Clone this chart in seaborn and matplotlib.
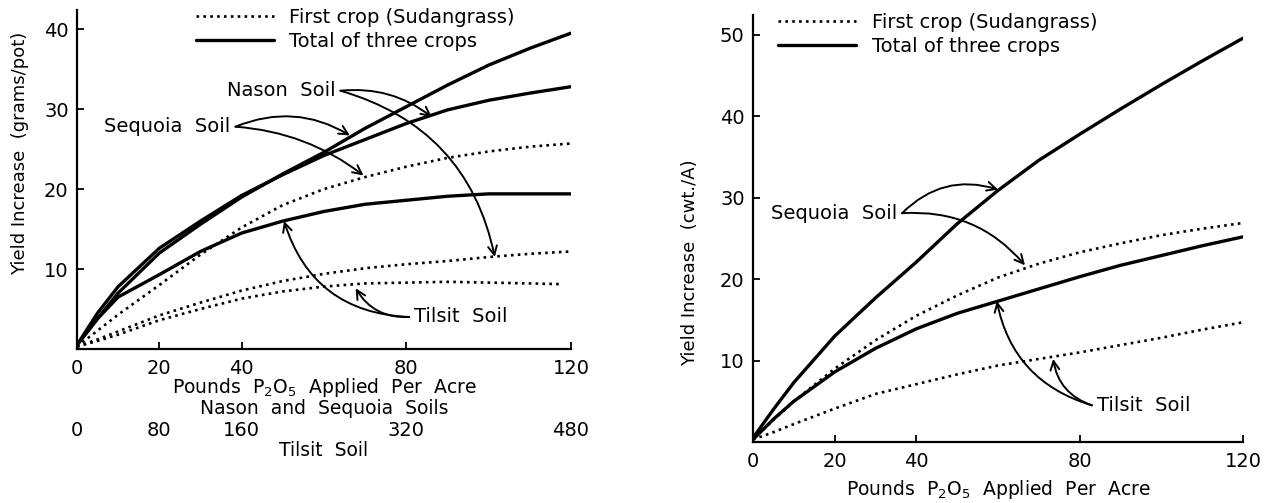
import matplotlib.pyplot as plt
import seaborn as sns
import pandas as pd
import numpy as np
from matplotlib.lines import Line2D

# values (x = pounds P2O5 per acre)
x_pts = [0, 5, 10, 20, 30, 40, 50, 60, 70, 80, 90, 100, 110, 120]
x_tilsit_first_l = [0, 5, 10, 20, 30, 40, 50, 60, 70, 80, 90, 100, 110, 118]

# left panel, grams/pot
sequoia_total_l = [0.5, 3.8, 7.0, 12.0, 15.6, 19.0, 21.9, 24.6, 27.6, 30.3, 33.0, 35.5, 37.6, 39.5]
nason_total_l = [0.5, 4.5, 7.8, 12.6, 16.0, 19.2, 21.8, 24.2, 26.2, 28.2, 29.9, 31.1, 32.0, 32.8]
tilsit_total_l = [0.5, 3.8, 6.5, 9.3, 12.2, 14.5, 16.0, 17.2, 18.1, 18.6, 19.1, 19.4, 19.4, 19.4]
sequoia_first_l = [0.3, 2.3, 4.3, 8.0, 11.8, 15.2, 18.0, 20.0, 21.5, 22.8, 23.9, 24.7, 25.3, 25.7]
nason_first_l = [0.3, 1.2, 2.2, 4.2, 5.8, 7.3, 8.5, 9.4, 10.1, 10.6, 11.0, 11.5, 11.9, 12.2]
tilsit_first_l = [0.3, 1.0, 1.8, 3.6, 5.0, 6.3, 7.2, 7.8, 8.2, 8.3, 8.4, 8.3, 8.2, 8.1]

# right panel, cwt./A
sequoia_total_r = [0.5, 4.0, 7.3, 13.0, 17.7, 22.1, 26.8, 30.9, 34.6, 37.8, 40.9, 43.9, 46.8, 49.6]
sequoia_first_r = [0.3, 2.7, 5.0, 9.0, 12.5, 15.5, 18.0, 20.2, 21.9, 23.3, 24.4, 25.4, 26.2, 26.9]
tilsit_total_r = [0.3, 2.8, 5.0, 8.6, 11.5, 13.9, 15.8, 17.3, 18.8, 20.3, 21.7, 22.9, 24.1, 25.2]
tilsit_first_r = [0.3, 1.2, 2.2, 4.1, 5.9, 7.1, 8.3, 9.4, 10.2, 11.0, 11.9, 12.8, 13.8, 14.7]

x_ticks = [0, 20, 40, 80, 120]
tilsit_ticks = [0, 80, 160, 320, 480]
legend_labels = ["First crop (Sudangrass)", "Total of three crops"]

# labels: text, anchor point, side, arrow tips with arc bend
left_notes = [
    ("Nason  Soil", (64.0, 32.3), "right", [((86.2, 29.0), -0.2), ((101.5, 11.5), -0.3)]),
    ("Sequoia  Soil", (38.5, 27.8), "right", [((66.3, 26.7), -0.25), ((69.6, 21.7), -0.15)]),
    ("Tilsit  Soil", (80.7, 4.0), "left", [((50.3, 16.0), -0.35), ((67.7, 7.6), -0.3)]),
]
right_notes = [
    ("Sequoia  Soil", (36.5, 28.1), "right", [((60.0, 31.0), -0.3), ((66.6, 21.7), -0.25)]),
    ("Tilsit  Soil", (83.0, 4.5), "left", [((59.7, 17.3), -0.3), ((73.5, 10.2), -0.3)]),
]

sns.set_theme(style="ticks")
plt.rcParams["font.family"] = ["DejaVu Sans"]
plt.rcParams["mathtext.default"] = "regular"
for key in ["text.color", "axes.labelcolor", "xtick.color", "ytick.color"]:
    plt.rcParams[key] = "black"

solid = dict(color="black", lw=2.4, linestyle="-")
dotted = dict(color="black", lw=1.9, linestyle=(0, (1, 1.6)))

fig = plt.figure(figsize=(12.73, 5.03), dpi=100)
ax1 = fig.add_axes([0.0605, 0.3062, 0.388, 0.674])
ax2 = fig.add_axes([0.5915, 0.1213, 0.385, 0.849])


def draw_curve(ax, x, y, style):
    sns.lineplot(x=x, y=y, ax=ax, estimator=None, sort=True, **style)


for y in [sequoia_total_l, nason_total_l, tilsit_total_l]:
    draw_curve(ax1, x_pts, y, solid)
for y in [sequoia_first_l, nason_first_l]:
    draw_curve(ax1, x_pts, y, dotted)
draw_curve(ax1, x_tilsit_first_l, tilsit_first_l, dotted)

for y in [sequoia_total_r, tilsit_total_r]:
    draw_curve(ax2, x_pts, y, solid)
for y in [sequoia_first_r, tilsit_first_r]:
    draw_curve(ax2, x_pts, y, dotted)


def add_notes(ax, notes):
    for text, (tx, ty), side, tips in notes:
        ha = "right" if side == "right" else "left"
        off = -1.2 if side == "right" else 1.2
        ax.text(tx + off, ty, text, ha=ha, va="center", fontsize=14)
        for (px, py), rad in tips:
            ax.annotate("", xy=(px, py), xytext=(tx, ty),
                        arrowprops=dict(arrowstyle="->", lw=1.4, color="black",
                                        connectionstyle=f"arc3,rad={rad}",
                                        shrinkA=0, shrinkB=0, mutation_scale=16))


add_notes(ax1, left_notes)
add_notes(ax2, right_notes)

handles = [Line2D([], [], **dotted), Line2D([], [], **solid)]

for ax, ymax, yticks, ylabel, anchor, lab_xy in [
    (ax1, 42.4, [10, 20, 30, 40], "Yield Increase  (grams/pot)", (0.241, 1.005), (-0.098, 0.578)),
    (ax2, 52.45, [10, 20, 30, 40, 50], "Yield Increase  (cwt./A)", (0.052, 1.004), (-0.11, 0.42)),
]:
    ax.set_xlim(0, 120)
    ax.set_ylim(0, ymax)
    ax.set_xticks(x_ticks)
    ax.set_yticks(yticks)
    sns.despine(ax=ax)
    for s in ["left", "bottom"]:
        ax.spines[s].set_linewidth(1.6)
        ax.spines[s].set_color("black")
    ax.tick_params(axis="both", direction="in", length=5, width=1.3, labelsize=14)
    ax.tick_params(axis="x", pad=7)
    ax.tick_params(axis="y", pad=6)
    ax.set_ylabel(ylabel, fontsize=13)
    ax.yaxis.set_label_coords(*lab_xy)
    ax.legend(handles, legend_labels, loc="upper left", bbox_to_anchor=anchor,
              frameon=False, fontsize=14, handlelength=4.0, handletextpad=0.8,
              labelspacing=0.25, borderpad=0, borderaxespad=0)

ax1.set_xlabel("Pounds  P$_2$O$_5$  Applied  Per  Acre\nNason  and  Sequoia  Soils",
               fontsize=13.5, labelpad=-1, linespacing=0.95)
ax2.set_xlabel("Pounds  P$_2$O$_5$  Applied  Per  Acre", fontsize=13.5, labelpad=5)

# second scale for Tilsit soil (4x the rate)
sec = ax1.secondary_xaxis(-0.212, functions=(lambda x: x * 4, lambda x: x / 4))
sec.set_xticks(tilsit_ticks)
sec.spines["bottom"].set_visible(False)
sec.tick_params(length=0, pad=0, labelsize=14, colors="black")
sec.set_xlabel("Tilsit  Soil", fontsize=13.5, labelpad=1)

fig.savefig("out.png", dpi=100)
